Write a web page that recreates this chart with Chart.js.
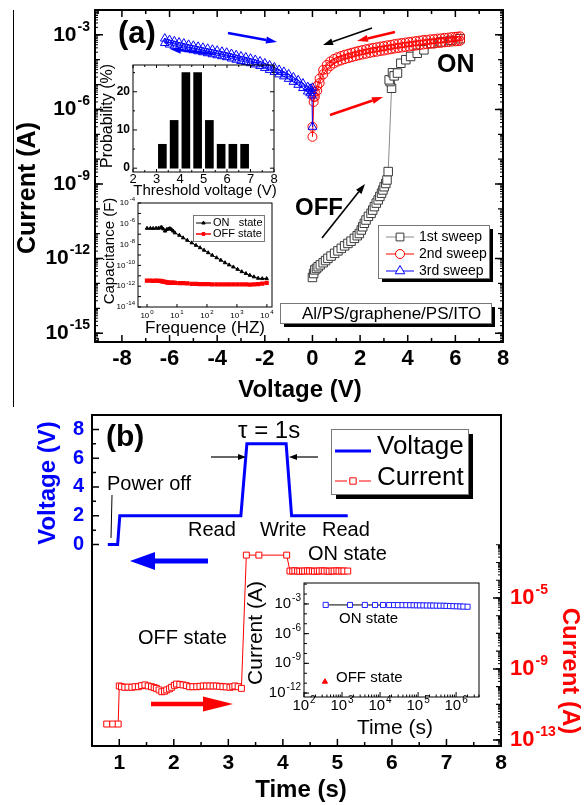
<!DOCTYPE html>
<html>
<head>
<meta charset="utf-8">
<title>Al/PS/graphene/PS/ITO memory: I-V and pulse test</title>
<script src="https://cdn.jsdelivr.net/npm/chart.js@4.4.1/dist/chart.umd.min.js"></script>
<style>
  html, body { margin: 0; padding: 0; background: #fff; }
  #page { position: relative; width: 587px; height: 805px; overflow: hidden; }
  .pane { position: absolute; }
  .rule { position: absolute; left: 13px; top: 10px; width: 1px; height: 397px; background: #000; }
</style>
</head>
<body>
<div id="page">
  <div class="rule"></div>
  <div class="pane" style="left:0;top:0;width:587px;height:410px"><canvas id="ivChart"></canvas></div>
  <div class="pane" style="left:90px;top:50px;width:200px;height:155px"><canvas id="histChart"></canvas></div>
  <div class="pane" style="left:90px;top:195px;width:200px;height:150px"><canvas id="capChart"></canvas></div>
  <div class="pane" style="left:0;top:400px;width:587px;height:405px"><canvas id="pulseChart"></canvas></div>
  <div class="pane" style="left:240px;top:570px;width:260px;height:170px"><canvas id="retChart"></canvas></div>
</div>
<script>
// ---- (a) I-V sweeps (V, A) ----
const sweep1V = [0.0, 0.05, 0.1, 0.17, 0.24, 0.33, 0.45, 0.55, 0.65, 0.78,
  0.93, 1.07, 1.21, 1.35, 1.49, 1.62, 1.76, 1.88, 1.97, 2.05,
  2.11, 2.18, 2.25, 2.35, 2.46, 2.53, 2.6, 2.68, 2.76, 2.83,
  2.9, 2.96, 3.01, 3.08, 3.13, 3.18,
  3.32, 3.26, 3.22, 3.36, 3.43, 3.57, 3.71, 3.92, 4.12, 4.4,
  4.68, 5.0, 5.4, 5.8, 6.2];
const sweep1I = [1.74e-13, 2.5e-13, 3.5e-13, 4.0e-13, 4.7e-13, 5.6e-13, 6.8e-13, 8.3e-13, 1.02e-12, 1.26e-12,
  1.62e-12, 2.04e-12, 2.57e-12, 3.24e-12, 4.07e-12, 5.0e-12, 6.5e-12, 8.3e-12, 1.02e-11, 1.41e-11,
  1.9e-11, 2.63e-11, 3.55e-11, 5.0e-11, 6.6e-11, 8.9e-11, 1.23e-10, 1.7e-10, 2.29e-10, 3.16e-10,
  4.27e-10, 5.75e-10, 7.76e-10, 1.05e-9, 1.45e-9, 3.16e-9,
  7.1e-6, 1.32e-5, 1.55e-5, 3.0e-5, 2.24e-5, 2.9e-5, 7.2e-5, 1.0e-4, 1.35e-4, 1.82e-4,
  2.5e-4, 4.5e-4, 5.2e-4, 6.0e-4, 7.0e-4];

// 2nd sweep: 0 -> 6.2 V (lower branch), then 6.2 -> 0 V (upper branch)
const sweep2V = [0, 0.05, 0.1, 0.2,
  0.3, 0.45, 0.6, 0.75, 0.9, 1.05, 1.2, 1.35, 1.5, 1.65, 1.8, 1.95, 2.1, 2.25, 2.4, 2.55, 2.7, 2.85, 3.0, 3.15, 3.3,
  3.45, 3.6, 3.75, 3.9, 4.05, 4.2, 4.35, 4.5, 4.65, 4.8, 4.95, 5.1, 5.25, 5.4, 5.55, 5.7, 5.85, 6.0, 6.1, 6.2,
  6.2, 6.1, 6.0, 5.85, 5.7, 5.55, 5.4, 5.25, 5.1, 4.95, 4.8, 4.65, 4.5, 4.35, 4.2, 4.05, 3.9, 3.75, 3.6, 3.45,
  3.3, 3.15, 3.0, 2.85, 2.7, 2.55, 2.4, 2.25, 2.1, 1.95, 1.8, 1.65, 1.5, 1.35, 1.2, 1.05, 0.9, 0.75, 0.6, 0.45, 0.3,
  0.2, 0.1, 0.05, 0];
const sweep2I = [7.9e-8, 2.0e-6, 3.2e-6, 5.6e-6,
  1.15e-5, 2.57e-5, 4.07e-5, 5.62e-5, 7.08e-5, 8.32e-5, 9.33e-5, 1.05e-4, 1.15e-4, 1.26e-4, 1.38e-4, 1.51e-4, 1.62e-4, 1.74e-4, 1.86e-4, 2.0e-4, 2.09e-4, 2.24e-4, 2.34e-4, 2.51e-4, 2.63e-4,
  2.82e-4, 2.95e-4, 3.09e-4, 3.24e-4, 3.39e-4, 3.55e-4, 3.72e-4, 3.89e-4, 4.07e-4, 4.17e-4, 4.37e-4, 4.47e-4, 4.68e-4, 4.79e-4, 5.01e-4, 5.13e-4, 5.37e-4, 5.5e-4, 5.62e-4, 5.75e-4,
  8.71e-4, 8.51e-4, 8.32e-4, 8.13e-4, 7.76e-4, 7.59e-4, 7.24e-4, 7.08e-4, 6.76e-4, 6.61e-4, 6.31e-4, 6.17e-4, 5.89e-4, 5.62e-4, 5.37e-4, 5.13e-4, 4.9e-4, 4.68e-4, 4.47e-4, 4.27e-4,
  3.98e-4, 3.8e-4, 3.55e-4, 3.39e-4, 3.16e-4, 3.02e-4, 2.82e-4, 2.63e-4, 2.45e-4, 2.29e-4, 2.09e-4, 1.91e-4, 1.74e-4, 1.58e-4, 1.41e-4, 1.26e-4, 1.07e-4, 8.51e-5, 6.17e-5, 3.89e-5, 1.74e-5,
  8.9e-6, 5.0e-6, 3.2e-6, 2.0e-7];

// 3rd sweep: 0 -> -6.2 V (lower branch), then -6.2 -> 0 V (upper branch)
const sweep3V = [0, -0.02, -0.1, -0.2, -0.4, -0.6, -0.8, -1.0, -1.2, -1.4, -1.6, -1.8, -2.0, -2.2, -2.4, -2.6, -2.8,
  -3.0, -3.2, -3.4, -3.6, -3.8, -4.0, -4.2, -4.4, -4.6, -4.8, -5.0, -5.2, -5.4, -5.6, -5.8, -6.0, -6.2,
  -6.2, -6.0, -5.8, -5.6, -5.4, -5.2, -5.0, -4.8, -4.6, -4.4, -4.2, -4.0, -3.8, -3.6, -3.4, -3.2, -3.0,
  -2.8, -2.6, -2.4, -2.2, -2.0, -1.8, -1.6, -1.4, -1.2, -1.0, -0.8, -0.6, -0.4, -0.2, -0.1, -0.02, 0];
const sweep3I = [2.0e-7, 3.63e-6, 4.47e-6, 5.25e-6, 7.24e-6, 9.77e-6, 1.29e-5, 1.7e-5, 2.14e-5, 2.57e-5, 3.24e-5, 3.89e-5, 4.68e-5, 5.62e-5, 6.46e-5, 7.24e-5, 8.13e-5,
  8.91e-5, 1.0e-4, 1.12e-4, 1.26e-4, 1.38e-4, 1.51e-4, 1.66e-4, 1.82e-4, 2.0e-4, 2.19e-4, 2.4e-4, 2.63e-4, 2.95e-4, 3.24e-4, 3.63e-4, 4.07e-4, 4.68e-4,
  7.08e-4, 6.17e-4, 5.5e-4, 4.9e-4, 4.47e-4, 3.98e-4, 3.63e-4, 3.31e-4, 3.02e-4, 2.75e-4, 2.51e-4, 2.29e-4, 2.09e-4, 1.91e-4, 1.7e-4, 1.51e-4, 1.35e-4,
  1.23e-4, 1.1e-4, 9.77e-5, 8.51e-5, 7.08e-5, 5.89e-5, 4.9e-5, 3.89e-5, 3.24e-5, 2.57e-5, 1.95e-5, 1.48e-5, 1.1e-5, 7.94e-6, 6.76e-6, 5.5e-6, 7.4e-6];

const ivVoltTicks = [-8, -6, -4, -2, 0, 2, 4, 6, 8];
const ivVoltMinor = [-9, -7, -5, -3, -1, 1, 3, 5, 7];
const ivCurrExp = [-3, -6, -9, -12, -15];

// ---- (a) inset: threshold voltage histogram ----
const thresholdV = [3.25, 3.75, 4.25, 4.75, 5.25, 5.75, 6.25, 6.75];
const probability = [6.25, 12.5, 25, 25, 12.5, 6.25, 6.25, 6.25];
const histXTicks = [2, 3, 4, 5, 6, 7, 8];
const histYTicks = [0, 10, 20];

// ---- (a) inset: capacitance vs frequency ----
const freqHz = [1, 1.3, 1.6, 2.0, 2.4, 2.8, 3.1, 3.5, 4.0, 4.5, 5.1, 5.8, 6.6, 7.5, 8.5,
  12, 16, 22, 31, 43, 59, 80, 110, 150, 210, 290, 400, 550, 760,
  1050, 1450, 2000, 2700, 3700, 5100, 7000, 9800];
const capOn = [3.7e-7, 3.7e-7, 3.6e-7, 3.8e-7, 3.7e-7, 4.2e-7, 4.6e-7, 3.2e-7, 2.0e-7, 2.8e-7, 3.2e-7, 3.5e-7, 2.8e-7, 2.0e-7, 1.35e-7,
  7.9e-8, 4.5e-8, 2.6e-8, 1.48e-8, 8.5e-9, 5.0e-9, 2.9e-9, 1.66e-9, 9.5e-10, 5.5e-10, 3.2e-10, 1.8e-10, 1.12e-10, 7.1e-11,
  4.2e-11, 2.5e-11, 1.66e-11, 1.12e-11, 7.9e-12, 5.8e-12, 5.4e-12, 5.4e-12];
const capOff = [3.4e-12, 3.4e-12, 3.3e-12, 3.4e-12, 3.2e-12, 3.3e-12, 3.0e-12, 2.8e-12, 2.6e-12, 2.4e-12, 2.2e-12, 2.2e-12, 2.1e-12, 2.2e-12, 2.1e-12,
  2.0e-12, 2.0e-12, 1.9e-12, 1.7e-12, 1.7e-12, 1.6e-12, 1.6e-12, 1.6e-12, 1.5e-12, 1.5e-12, 1.5e-12, 1.5e-12, 1.5e-12, 1.5e-12,
  1.5e-12, 1.5e-12, 1.5e-12, 1.4e-12, 1.5e-12, 1.6e-12, 1.8e-12, 2.1e-12];
const capXExp = [0, 1, 2, 3, 4];
const capYExp = [-4, -6, -8, -10, -12, -14];

// ---- (b) pulse test ----
const voltTime = [0.79, 0.97, 1.01, 3.23, 3.34, 4.06, 4.16, 5.19];
const voltLevel = [0, 0, 2, 2, 7, 7, 2, 2];
const currTime = [0.77, 0.88, 0.98,
  1.0, 1.04, 1.1, 1.16, 1.23, 1.29, 1.35, 1.41, 1.47, 1.53,
  1.59, 1.64, 1.68, 1.73, 1.78, 1.83, 1.87, 1.92, 1.96, 2.01,
  2.05, 2.11, 2.17, 2.23, 2.29, 2.35, 2.42, 2.48, 2.54, 2.6,
  2.66, 2.72, 2.78, 2.84, 2.9, 2.96, 3.03, 3.08, 3.12, 3.18, 3.24,
  3.33, 3.56, 4.07,
  4.13, 4.18, 4.22, 4.27, 4.31, 4.36, 4.4, 4.45, 4.49, 4.54,
  4.58, 4.63, 4.67, 4.72, 4.76, 4.81, 4.85, 4.9, 4.94, 4.99,
  5.03, 5.08, 5.12, 5.19];
const currValue = [7.9e-13, 7.9e-13, 7.9e-13,
  1.1e-10, 1.0e-10, 9.3e-11, 9.5e-11, 9.3e-11, 1.0e-10, 1.0e-10, 1.15e-10, 1.26e-10, 1.1e-10,
  1.0e-10, 8.9e-11, 8.1e-11, 6.6e-11, 5.2e-11, 5.6e-11, 6.6e-11, 7.6e-11, 9.3e-11, 1.2e-10,
  1.41e-10, 1.35e-10, 1.26e-10, 1.15e-10, 1.0e-10, 1.0e-10, 1.0e-10, 1.05e-10, 1.1e-10, 1.1e-10,
  1.1e-10, 1.1e-10, 1.1e-10, 1.05e-10, 1.0e-10, 9.8e-11, 9.3e-11, 1.0e-10, 1.1e-10, 1.0e-10, 8.1e-11,
  2.6e-3, 2.6e-3, 2.6e-3,
  3.3e-4, 3.3e-4, 3.4e-4, 3.3e-4, 3.2e-4, 3.3e-4, 3.3e-4, 3.4e-4, 3.3e-4, 3.3e-4,
  3.2e-4, 3.3e-4, 3.3e-4, 3.4e-4, 3.3e-4, 3.3e-4, 3.2e-4, 3.3e-4, 3.3e-4, 3.4e-4,
  3.3e-4, 3.3e-4, 3.3e-4, 3.3e-4];
const timeTicks = [1, 2, 3, 4, 5, 6, 7, 8];
const timeMinor = [1.5, 2.5, 3.5, 4.5, 5.5, 6.5, 7.5];
const voltTicks = [0, 2, 4, 6, 8];
const voltMinor = [1, 3, 5, 7];
const pulseCurrExp = [-5, -9, -13];

// ---- (b) inset: retention ----
const retOnTime = [372, 1620, 3980, 7400, 1.2e4, 1.74e4, 2.34e4, 2.95e4, 3.9e4, 4.9e4,
  6.2e4, 7.6e4, 9.3e4, 1.12e5, 1.38e5, 1.7e5, 2.1e5, 2.5e5, 3.1e5, 3.8e5,
  4.7e5, 5.6e5, 6.9e5, 8.5e5, 1.05e6, 1.29e6, 1.55e6, 2.0e6];
const retOnI = [8.0e-4, 7.9e-4, 7.9e-4, 7.8e-4, 7.8e-4, 7.7e-4, 7.7e-4, 7.6e-4, 7.6e-4, 7.5e-4,
  7.5e-4, 7.4e-4, 7.3e-4, 7.2e-4, 7.1e-4, 7.0e-4, 6.9e-4, 6.8e-4, 6.7e-4, 6.6e-4,
  6.5e-4, 6.3e-4, 6.1e-4, 6.0e-4, 5.8e-4, 5.6e-4, 5.4e-4, 5.2e-4];
const retOffTime = [355];
const retOffI = [1.4e-11];
const retXExp = [2, 3, 4, 5, 6];
const retYExp = [-3, -6, -9, -12];

// ---------------------------------------------------------------
const FAM = "'Liberation Sans', Arial, Helvetica, sans-serif";
Chart.defaults.font.family = FAM;
Chart.defaults.color = '#000';
Chart.defaults.animation = false;
Chart.defaults.events = [];
Chart.defaults.responsive = true;
Chart.defaults.maintainAspectRatio = false;
Chart.defaults.plugins.legend.display = false;
Chart.defaults.plugins.tooltip.enabled = false;

const fnt = (size, bold) => (bold ? 'bold ' : '') + size + 'px ' + FAM;
const pts = (xs, ys) => xs.map((x, i) => ({x: x, y: ys[i]}));
const p10 = e => Math.pow(10, e);
const setTicks = vals => s => { s.ticks = vals.map(v => ({value: v})); };
const fixBox = (w, h) => s => {
  if (w != null) s.width = w;
  if (h != null) s.height = h;
  s.paddingTop = s.paddingBottom = s.paddingLeft = s.paddingRight = 0;
};
const axis = extra => Object.assign({grid: {display: false, drawTicks: false}, border: {display: false}}, extra);

function decades(lo, hi) {
  const out = [];
  for (let e = lo; e <= hi; e++) out.push(p10(e));
  return out;
}
function minors(lo, hi) {
  const out = [];
  for (let e = lo; e < hi; e++) for (let m = 2; m <= 9; m++) out.push(m * p10(e));
  return out;
}

function label(ctx, str, x, y, o) {
  ctx.save();
  ctx.font = fnt(o.size, o.bold);
  ctx.fillStyle = o.color || '#000';
  ctx.textAlign = o.align || 'left';
  ctx.textBaseline = o.base || 'alphabetic';
  ctx.translate(x, y);
  if (o.rot) ctx.rotate(o.rot);
  ctx.fillText(str, 0, 0);
  ctx.restore();
}

// "10" with a raised exponent; y is the middle of the "10"
function power(ctx, exp, x, y, o) {
  ctx.save();
  ctx.fillStyle = o.color || '#000';
  ctx.font = fnt(o.size, o.bold);
  const wb = ctx.measureText('10').width;
  ctx.font = fnt(o.sup, o.bold);
  const es = String(exp);
  const we = ctx.measureText(es).width;
  const w = wb + 1 + we;
  const x0 = o.align === 'right' ? x - w : o.align === 'center' ? x - w / 2 : x;
  ctx.textAlign = 'left';
  ctx.textBaseline = 'middle';
  ctx.font = fnt(o.size, o.bold);
  ctx.fillText('10', x0, y);
  ctx.textBaseline = 'alphabetic';
  ctx.font = fnt(o.sup, o.bold);
  ctx.fillText(es, x0 + wb + 1, y - o.size * 0.2);
  ctx.restore();
}

function frame(ctx, a, lw) {
  ctx.save();
  ctx.strokeStyle = '#000';
  ctx.lineWidth = lw;
  ctx.strokeRect(a.left, a.top, a.right - a.left, a.bottom - a.top);
  ctx.restore();
}

// inward tick marks along one side of the plot frame
function marks(ctx, a, scale, side, vals, len, lw) {
  ctx.save();
  ctx.strokeStyle = '#000';
  ctx.lineWidth = lw;
  ctx.beginPath();
  vals.forEach(v => {
    const p = scale.getPixelForValue(v);
    if (side === 'bottom' || side === 'top') {
      if (p < a.left - 0.5 || p > a.right + 0.5) return;
      const y0 = side === 'bottom' ? a.bottom : a.top;
      ctx.moveTo(p, y0);
      ctx.lineTo(p, side === 'bottom' ? y0 - len : y0 + len);
    } else {
      if (p < a.top - 0.5 || p > a.bottom + 0.5) return;
      const x0 = side === 'left' ? a.left : a.right;
      ctx.moveTo(x0, p);
      ctx.lineTo(side === 'left' ? x0 + len : x0 - len, p);
    }
  });
  ctx.stroke();
  ctx.restore();
}

function arrow(ctx, x1, y1, x2, y2, color, lw, hl, hw) {
  const ang = Math.atan2(y2 - y1, x2 - x1);
  const bx = x2 - hl * Math.cos(ang), by = y2 - hl * Math.sin(ang);
  ctx.save();
  ctx.strokeStyle = color;
  ctx.fillStyle = color;
  ctx.lineWidth = lw;
  ctx.beginPath();
  ctx.moveTo(x1, y1);
  ctx.lineTo(bx, by);
  ctx.stroke();
  ctx.beginPath();
  ctx.moveTo(x2, y2);
  ctx.lineTo(bx + hw * Math.sin(ang), by - hw * Math.cos(ang));
  ctx.lineTo(bx - hw * Math.sin(ang), by + hw * Math.cos(ang));
  ctx.closePath();
  ctx.fill();
  ctx.restore();
}

function line(ctx, x1, y1, x2, y2, color, lw) {
  ctx.save();
  ctx.strokeStyle = color;
  ctx.lineWidth = lw;
  ctx.beginPath();
  ctx.moveTo(x1, y1);
  ctx.lineTo(x2, y2);
  ctx.stroke();
  ctx.restore();
}

function marker(ctx, style, x, y, r, stroke, fill) {
  ctx.save();
  ctx.beginPath();
  if (style === 'rect') {
    const s = r * Math.SQRT1_2;
    ctx.rect(x - s, y - s, 2 * s, 2 * s);
  } else if (style === 'circle') {
    ctx.arc(x, y, r, 0, 2 * Math.PI);
  } else {
    ctx.moveTo(x, y - r);
    ctx.lineTo(x + r * 0.866, y + r * 0.5);
    ctx.lineTo(x - r * 0.866, y + r * 0.5);
    ctx.closePath();
  }
  if (fill) { ctx.fillStyle = fill; ctx.fill(); }
  ctx.strokeStyle = stroke;
  ctx.lineWidth = 1;
  ctx.stroke();
  ctx.restore();
}

function shadowBox(ctx, x, y, w, h, off) {
  ctx.save();
  ctx.fillStyle = '#000';
  ctx.fillRect(x + off, y + off, w, h);
  ctx.fillStyle = '#fff';
  ctx.fillRect(x, y, w, h);
  ctx.strokeStyle = '#777';
  ctx.lineWidth = 1;
  ctx.strokeRect(x + 0.5, y + 0.5, w, h);
  ctx.restore();
}

// ---------------- (a) main I-V ----------------
const ivDeco = {
  id: 'ivDeco',
  afterDraw(chart) {
    const ctx = chart.ctx, a = chart.chartArea, x = chart.scales.x, y = chart.scales.y;
    frame(ctx, a, 2);
    ['bottom', 'top'].forEach(side => {
      marks(ctx, a, x, side, ivVoltTicks, 7, 1.5);
      marks(ctx, a, x, side, ivVoltMinor, 4, 1.5);
    });
    ['left', 'right'].forEach(side => {
      marks(ctx, a, y, side, ivCurrExp.map(p10), 8, 1.5);
      marks(ctx, a, y, side, decades(-15, -3), 5, 1.2);
      marks(ctx, a, y, side, minors(-16, -2), 3, 1);
    });
    ivCurrExp.forEach(e => power(ctx, e, 90, y.getPixelForValue(p10(e)),
      {size: 21, sup: 14, bold: true, align: 'right'}));

    label(ctx, 'Voltage (V)', 300, 397, {size: 24, bold: true, align: 'center'});
    label(ctx, 'Current (A)', 28, 188, {size: 25, bold: true, align: 'center', base: 'middle', rot: -Math.PI / 2});
    label(ctx, '(a)', 118, 43, {size: 31, bold: true});
    label(ctx, 'ON', 437, 72, {size: 25, bold: true});
    label(ctx, 'OFF', 295, 215, {size: 24, bold: true});

    arrow(ctx, 228, 33, 277, 42, '#0000ff', 2.5, 11, 3.5);
    arrow(ctx, 213, 54, 170, 49, '#0000ff', 2.5, 11, 3.5);
    arrow(ctx, 372, 28, 323, 45, '#000', 1.6, 10, 3.5);
    arrow(ctx, 395, 32, 357, 41, '#ff0000', 2.5, 11, 3.5);
    arrow(ctx, 330, 115, 383, 97, '#ff0000', 2.5, 11, 3.5);
    arrow(ctx, 322, 238, 365, 184, '#000', 1.6, 10, 3.5);

    shadowBox(ctx, 378, 225, 111, 53, 4);
    const rows = [
      ['1st sweep', 237, '#8a8a8a', 'rect', 5.5, '#3a3a3a', '#fff'],
      ['2nd sweep', 254, '#ff0000', 'circle', 4.5, '#ff0000', '#fff'],
      ['3rd sweep', 271, '#0000ff', 'triangle', 5.5, '#0000ff', '#fff']
    ];
    rows.forEach(r => {
      line(ctx, 386, r[1], 414, r[1], r[2], 1);
      marker(ctx, r[3], 400, r[1], r[4], r[5], r[6]);
      label(ctx, r[0], 419, r[1], {size: 14, base: 'middle'});
    });

    shadowBox(ctx, 280, 303, 211, 20, 4);
    label(ctx, 'Al/PS/graphene/PS/ITO', 302, 319, {size: 17});
  }
};

new Chart(document.getElementById('ivChart'), {
  type: 'scatter',
  data: {
    datasets: [
      {label: '1st sweep', data: pts(sweep1V, sweep1I), showLine: true, borderColor: '#8a8a8a', borderWidth: 1,
        pointStyle: 'rect', pointRadius: 6, pointBorderColor: '#3a3a3a', pointBackgroundColor: '#fff', pointBorderWidth: 1, order: 3},
      {label: '2nd sweep', data: pts(sweep2V, sweep2I), showLine: true, borderColor: '#ff0000', borderWidth: 1,
        pointStyle: 'circle', pointRadius: 4.5, pointBorderColor: '#ff0000', pointBackgroundColor: 'rgba(255,255,255,0)', pointBorderWidth: 1, order: 2},
      {label: '3rd sweep', data: pts(sweep3V, sweep3I), showLine: true, borderColor: '#0000ff', borderWidth: 1,
        pointStyle: 'triangle', pointRadius: 5, pointBorderColor: '#0000ff', pointBackgroundColor: 'rgba(255,255,255,0)', pointBorderWidth: 1, order: 1}
    ]
  },
  options: {
    layout: {padding: {top: 10, right: 84, left: 0, bottom: 0}},
    scales: {
      x: axis({type: 'linear', min: -9.13, max: 8, afterBuildTicks: setTicks(ivVoltTicks), afterFit: fixBox(null, 68),
        ticks: {font: {size: 22, weight: 'bold'}, padding: 4, autoSkip: false, maxRotation: 0, callback: v => String(v)}}),
      y: axis({type: 'logarithmic', min: 4.4e-16, max: 1e-2, afterBuildTicks: setTicks(ivCurrExp.map(p10)),
        afterFit: fixBox(95, null), ticks: {display: false}})
    }
  },
  plugins: [ivDeco]
});

// ---------------- (a) inset: histogram ----------------
const histDeco = {
  id: 'histDeco',
  afterDraw(chart) {
    const ctx = chart.ctx, a = chart.chartArea, x = chart.scales.x, y = chart.scales.y;
    frame(ctx, a, 1);
    ['bottom', 'top'].forEach(side => {
      marks(ctx, a, x, side, histXTicks, 3, 1);
      marks(ctx, a, x, side, [2.5, 3.5, 4.5, 5.5, 6.5, 7.5], 2, 1);
    });
    ['left', 'right'].forEach(side => {
      marks(ctx, a, y, side, histYTicks, 4, 1);
      marks(ctx, a, y, side, [5, 15, 25], 2, 1);
    });
    ctx.save();
    ctx.translate(-90, -50);
    label(ctx, 'Probability (%)', 108, 116, {size: 16, align: 'center', base: 'middle', rot: -Math.PI / 2});
    label(ctx, 'Threshold voltage (V)', 205, 191, {size: 15, align: 'center', base: 'middle'});
    ctx.restore();
  }
};

new Chart(document.getElementById('histChart'), {
  type: 'bar',
  data: {datasets: [{data: pts(thresholdV, probability), backgroundColor: '#000', barThickness: 8}]},
  options: {
    layout: {padding: {top: 15, right: 16, left: 0, bottom: 0}},
    scales: {
      x: axis({type: 'linear', offset: false, min: 2, max: 8, afterBuildTicks: setTicks(histXTicks), afterFit: fixBox(null, 33),
        ticks: {font: {size: 13}, padding: 0, autoSkip: false, maxRotation: 0}}),
      y: axis({type: 'linear', min: -1, max: 27, afterBuildTicks: setTicks(histYTicks), afterFit: fixBox(43, null),
        ticks: {font: {size: 12, weight: 'bold'}, padding: 3}})
    }
  },
  plugins: [histDeco]
});

// ---------------- (a) inset: capacitance ----------------
const capDeco = {
  id: 'capDeco',
  afterDraw(chart) {
    const ctx = chart.ctx, a = chart.chartArea, x = chart.scales.x, y = chart.scales.y;
    frame(ctx, a, 1);
    marks(ctx, a, x, 'bottom', decades(0, 4), 3, 1);
    marks(ctx, a, y, 'left', decades(-14, -4), 3, 1);
    capXExp.forEach(e => power(ctx, e, x.getPixelForValue(p10(e)), a.bottom + 9, {size: 8, sup: 6, align: 'center'}));
    capYExp.forEach(e => power(ctx, e, a.left - 3, y.getPixelForValue(p10(e)), {size: 8, sup: 6, align: 'right'}));
    ctx.save();
    ctx.translate(-90, -195);
    label(ctx, 'Capacitance (F)', 110, 251, {size: 15, align: 'center', base: 'middle', rot: -Math.PI / 2});
    label(ctx, 'Frequence (HZ)', 205, 328, {size: 17, align: 'center', base: 'middle'});
    ctx.fillStyle = '#fff';
    ctx.fillRect(193, 215, 71, 26);
    ctx.strokeStyle = '#777';
    ctx.lineWidth = 1;
    ctx.strokeRect(193.5, 215.5, 71, 26);
    line(ctx, 196, 223, 211, 223, '#000', 1);
    marker(ctx, 'triangle', 203.5, 223, 2, '#000', '#000');
    label(ctx, 'ON   state', 213, 223, {size: 11, base: 'middle'});
    line(ctx, 196, 234, 211, 234, '#ff0000', 1.5);
    marker(ctx, 'rect', 203.5, 234, 2, '#ff0000', '#ff0000');
    label(ctx, 'OFF state', 213, 234, {size: 11, base: 'middle'});
    ctx.restore();
  }
};

new Chart(document.getElementById('capChart'), {
  type: 'scatter',
  data: {
    datasets: [
      {data: pts(freqHz, capOn), showLine: true, borderColor: '#000', borderWidth: 1,
        pointStyle: 'triangle', pointRadius: 2, pointBorderColor: '#000', pointBackgroundColor: '#000'},
      {data: pts(freqHz, capOff), showLine: true, borderColor: '#ff0000', borderWidth: 1.5,
        pointStyle: 'rect', pointRadius: 2, pointBorderColor: '#ff0000', pointBackgroundColor: '#ff0000'}
    ]
  },
  options: {
    layout: {padding: {top: 8, right: 18, left: 0, bottom: 0}},
    scales: {
      x: axis({type: 'logarithmic', min: 0.5, max: 14800, afterBuildTicks: setTicks(capXExp.map(p10)), afterFit: fixBox(null, 38), ticks: {display: false}}),
      y: axis({type: 'logarithmic', min: 1e-14, max: 1e-4, afterBuildTicks: setTicks(capYExp.map(p10)), afterFit: fixBox(48, null), ticks: {display: false}})
    }
  },
  plugins: [capDeco]
});

// ---------------- (b) pulse test ----------------
const pulseDeco = {
  id: 'pulseDeco',
  afterDraw(chart) {
    const ctx = chart.ctx, a = chart.chartArea;
    const x = chart.scales.x, y = chart.scales.y, y2 = chart.scales.y2;
    frame(ctx, a, 2);
    marks(ctx, a, x, 'bottom', timeTicks, 7, 1.5);
    marks(ctx, a, x, 'bottom', timeMinor, 4, 1.5);
    marks(ctx, a, y, 'left', voltTicks, 7, 1.5);
    marks(ctx, a, y, 'left', voltMinor, 4, 1.5);
    marks(ctx, a, y2, 'right', pulseCurrExp.map(p10), 8, 1.5);
    marks(ctx, a, y2, 'right', decades(-13, -2), 5, 1.2);
    marks(ctx, a, y2, 'right', minors(-14, -2), 3, 1);
    pulseCurrExp.forEach(e => power(ctx, e, 510, y2.getPixelForValue(p10(e)),
      {size: 22, sup: 14, bold: true, align: 'left', color: '#ff0000'}));

    ctx.save();
    ctx.translate(0, -400);
    label(ctx, 'Voltage (V)', 48, 483, {size: 24, bold: true, align: 'center', base: 'middle', color: '#0000ff', rot: -Math.PI / 2});
    label(ctx, 'Current (A)', 570, 671, {size: 24, bold: true, align: 'center', base: 'middle', color: '#ff0000', rot: Math.PI / 2});
    label(ctx, 'Time (s)', 301, 797, {size: 24, bold: true, align: 'center'});
    label(ctx, '(b)', 106, 446, {size: 30, bold: true});
    label(ctx, 'τ = 1s', 238, 438, {size: 24});
    arrow(ctx, 211, 457, 246, 457, '#000', 1.2, 8, 3);
    arrow(ctx, 318, 457, 289, 457, '#000', 1.2, 8, 3);
    label(ctx, 'Power off', 107, 490, {size: 20});
    line(ctx, 112, 495, 111, 538, '#000', 1);
    label(ctx, 'Read', 188, 536, {size: 20});
    label(ctx, 'Write', 260, 536, {size: 20});
    label(ctx, 'Read', 322, 536, {size: 20});
    label(ctx, 'ON state', 308, 560, {size: 20});
    label(ctx, 'OFF state', 138, 644, {size: 20});
    arrow(ctx, 208, 561, 130, 561, '#0000ff', 5, 25, 9);
    arrow(ctx, 151, 704, 233, 704, '#ff0000', 4.5, 30, 7.5);

    shadowBox(ctx, 331, 429, 137, 65, 5);
    line(ctx, 335, 451, 371, 451, '#0000ff', 3);
    label(ctx, 'Voltage', 377, 454, {size: 26});
    line(ctx, 335, 481, 347, 481, '#ff0000', 1);
    line(ctx, 359, 481, 371, 481, '#ff0000', 1);
    marker(ctx, 'rect', 353, 481, 4.5, '#ff0000', '#fff');
    label(ctx, 'Current', 377, 485, {size: 26});
    ctx.restore();
  }
};

new Chart(document.getElementById('pulseChart'), {
  type: 'scatter',
  data: {
    datasets: [
      {label: 'Voltage', data: pts(voltTime, voltLevel), yAxisID: 'y', showLine: true,
        borderColor: '#0000ff', borderWidth: 3, pointRadius: 0, order: 1},
      {label: 'Current', data: pts(currTime, currValue), yAxisID: 'y2', showLine: true,
        borderColor: '#ff0000', borderWidth: 1, pointStyle: 'rect', pointRadius: 4.2,
        pointBorderColor: '#ff0000', pointBackgroundColor: '#fff', pointBorderWidth: 1, order: 2}
    ]
  },
  options: {
    layout: {padding: {top: 15, right: 0, left: 0, bottom: 0}},
    scales: {
      x: axis({type: 'linear', min: 0.5, max: 8, afterBuildTicks: setTicks(timeTicks), afterFit: fixBox(null, 59),
        ticks: {font: {size: 21, weight: 'bold'}, padding: 5, autoSkip: false, maxRotation: 0}}),
      y: axis({type: 'linear', position: 'left', min: -14, max: 9, afterBuildTicks: setTicks(voltTicks), afterFit: fixBox(92, null),
        ticks: {font: {size: 20, weight: 'bold'}, color: '#0000ff', padding: 8}}),
      y2: axis({type: 'logarithmic', position: 'right', min: 4.57e-14, max: 2.04e5,
        afterBuildTicks: setTicks(pulseCurrExp.map(p10)), afterFit: fixBox(86, null), ticks: {display: false}})
    }
  },
  plugins: [pulseDeco]
});

// ---------------- (b) inset: retention ----------------
const retDeco = {
  id: 'retDeco',
  afterDraw(chart) {
    const ctx = chart.ctx, a = chart.chartArea, x = chart.scales.x, y = chart.scales.y;
    frame(ctx, a, 1);
    marks(ctx, a, x, 'bottom', decades(2, 6), 5, 1);
    marks(ctx, a, x, 'bottom', minors(2, 7), 2.5, 1);
    marks(ctx, a, y, 'left', retYExp.map(p10), 5, 1);
    marks(ctx, a, y, 'left', decades(-12, -1), 3, 1);
    retXExp.forEach(e => power(ctx, e, x.getPixelForValue(p10(e)), a.bottom + 9, {size: 15, sup: 10, align: 'center'}));
    retYExp.forEach(e => power(ctx, e, a.left - 3, y.getPixelForValue(p10(e)), {size: 15, sup: 10, align: 'right'}));
    ctx.save();
    ctx.translate(-240, -570);
    label(ctx, 'Current (A)', 256, 633, {size: 21, align: 'center', base: 'middle', rot: -Math.PI / 2});
    label(ctx, 'Time (s)', 395, 728, {size: 21, align: 'center', base: 'middle'});
    label(ctx, 'ON state', 339, 619, {size: 15, base: 'middle'});
    label(ctx, 'OFF state', 336, 678, {size: 15, base: 'middle'});
    ctx.restore();
  }
};

new Chart(document.getElementById('retChart'), {
  type: 'scatter',
  data: {
    datasets: [
      {data: pts(retOnTime, retOnI), showLine: true, borderColor: '#000', borderWidth: 1,
        pointStyle: 'rect', pointRadius: 3.6, pointBorderColor: '#2020ff', pointBackgroundColor: '#fff', pointBorderWidth: 1},
      {data: pts(retOffTime, retOffI), pointStyle: 'triangle', pointRadius: 3,
        pointBorderColor: '#ff0000', pointBackgroundColor: '#ff0000'}
    ]
  },
  options: {
    layout: {padding: {top: 13, right: 21, left: 0, bottom: 0}},
    scales: {
      x: axis({type: 'logarithmic', min: 100, max: 4e6, afterBuildTicks: setTicks(retXExp.map(p10)), afterFit: fixBox(null, 43), ticks: {display: false}}),
      y: axis({type: 'logarithmic', min: 4e-13, max: 0.13, afterBuildTicks: setTicks(retYExp.map(p10)), afterFit: fixBox(64, null), ticks: {display: false}})
    }
  },
  plugins: [retDeco]
});
</script>
</body>
</html>
